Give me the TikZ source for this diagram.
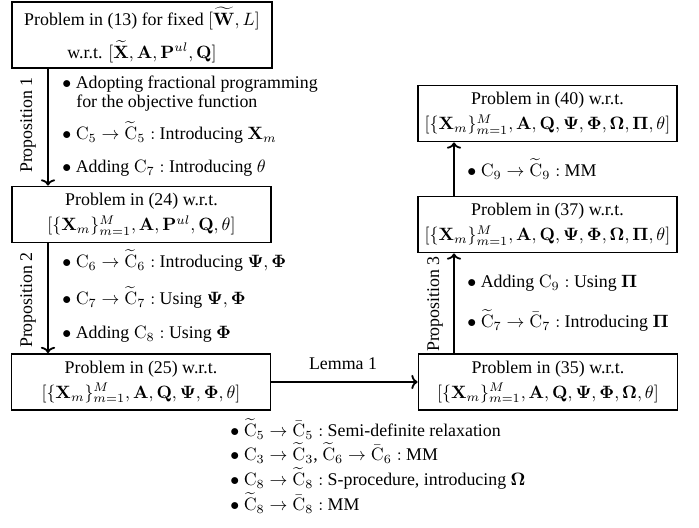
\documentclass[tikz,border=0pt]{standalone}
\usepackage[no-math]{fontspec}
\setmainfont{Liberation Serif}
\usetikzlibrary{arrows.meta}
\def\uu{0.56pt}
\tikzset{
  pbox/.style={draw, line width=1pt, inner sep=0pt, align=center,
    minimum width=259*\uu, minimum height=56*\uu},
  arr/.style={line width=1pt, -{To[length=3.5pt,width=8pt]}},
  bl/.style={anchor=west, inner sep=0pt, text height=7pt, text depth=2pt},
  prop/.style={rotate=90, inner sep=0pt},
}
\begin{document}
\begin{tikzpicture}[x=\uu, y=-\uu]
\useasboundingbox (0,0) rectangle (699,527);
% boxes
\node[pbox, minimum width=260*\uu, minimum height=66*\uu] (b1) at (142,35)
  {Problem in (13) for fixed $[\widetilde{\mathbf{W}}, L]$\\[5pt]
   w.r.t. $[\widetilde{\mathbf{X}}, \mathbf{A}, \mathbf{P}^{ul}, \mathbf{Q}]$};
\node[pbox] (b2) at (141.5,214.5)
  {Problem in (24) w.r.t.\\[2pt]
   $[\{\mathbf{X}_m\}_{m=1}^M, \mathbf{A}, \mathbf{P}^{ul}, \mathbf{Q}, \theta]$};
\node[pbox] (b3) at (141,382)
  {Problem in (25) w.r.t.\\[2pt]
   $[\{\mathbf{X}_m\}_{m=1}^M, \mathbf{A}, \mathbf{Q}, \mathbf{\Psi}, \mathbf{\Phi}, \theta]$};
\node[pbox] (b4) at (548,382)
  {Problem in (35) w.r.t.\\[2pt]
   $[\{\mathbf{X}_m\}_{m=1}^M, \mathbf{A}, \mathbf{Q}, \mathbf{\Psi}, \mathbf{\Phi}, \mathbf{\Omega}, \theta]$};
\node[pbox] (b5) at (547.5,224.5)
  {Problem in (37) w.r.t.\\[2pt]
   $[\{\mathbf{X}_m\}_{m=1}^M, \mathbf{A}, \mathbf{Q}, \mathbf{\Psi}, \mathbf{\Phi}, \mathbf{\Omega}, \mathbf{\Pi}, \theta]$};
\node[pbox] (b6) at (547.5,113.5)
  {Problem in (40) w.r.t.\\[2pt]
   $[\{\mathbf{X}_m\}_{m=1}^M, \mathbf{A}, \mathbf{Q}, \mathbf{\Psi}, \mathbf{\Phi}, \mathbf{\Omega}, \mathbf{\Pi}, \theta]$};
% arrow columns
\coordinate (cl) at (48,0);
\coordinate (cr) at (454,0);
\draw[arr] (b1.south -| cl) -- (b2.north -| cl);
\draw[arr] (b2.south -| cl) -- (b3.north -| cl);
\draw[arr] (b4.north -| cr) -- (b5.south -| cr);
\draw[arr] (b5.north -| cr) -- (b6.south -| cr);
\draw[arr] (b3.east) -- (b4.west);
% labels
\node[prop] (p1) at (28,125) {Proposition 1};
\node[prop] (p2) at (28,300) {Proposition 2};
\node[prop] (p3) at (435,304) {Proposition 3};
\node[inner sep=0pt] (lem) at (343,364) {Lemma 1};
% bullets arrow 1
\node[bl] (t11) at (62,84) {$\bullet$ Adopting fractional programming};
\node[bl] (t12) at (76,103) {for the objective function};
\node[bl] (t13) at (62,135) {$\bullet$ $\mathrm{C}_5\rightarrow\widetilde{\mathrm{C}}_5:$ Introducing $\mathbf{X}_m$};
\node[bl] (t14) at (62,168) {$\bullet$ Adding $\mathrm{C}_7:$ Introducing $\theta$};
% bullets arrow 2
\node[bl] (t21) at (62,263) {$\bullet$ $\mathrm{C}_6\rightarrow\widetilde{\mathrm{C}}_6:$ Introducing $\mathbf{\Psi},\mathbf{\Phi}$};
\node[bl] (t22) at (62,300) {$\bullet$ $\mathrm{C}_7\rightarrow\widetilde{\mathrm{C}}_7:$ Using $\mathbf{\Psi},\mathbf{\Phi}$};
\node[bl] (t23) at (62,334) {$\bullet$ Adding $\mathrm{C}_8:$ Using $\mathbf{\Phi}$};
% right side
\node[bl] (t31) at (467,172) {$\bullet$ $\mathrm{C}_9\rightarrow\widetilde{\mathrm{C}}_9:$ MM};
\node[bl] (t41) at (467,283) {$\bullet$ Adding $\mathrm{C}_9:$ Using $\mathbf{\Pi}$};
\node[bl] (t42) at (467,323) {$\bullet$ $\widetilde{\mathrm{C}}_7\rightarrow\bar{\mathrm{C}}_7:$ Introducing $\mathbf{\Pi}$};
% bottom
\node[bl] (t51) at (230,432) {$\bullet$ $\widetilde{\mathrm{C}}_5\rightarrow\bar{\mathrm{C}}_5:$ Semi-definite relaxation};
\node[bl] (t52) at (230,456) {$\bullet$ $\mathrm{C}_3\rightarrow\widetilde{\mathrm{C}}_3$, $\widetilde{\mathrm{C}}_6\rightarrow\bar{\mathrm{C}}_6:$ MM};
\node[bl] (t53) at (230,481) {$\bullet$ $\mathrm{C}_8\rightarrow\widetilde{\mathrm{C}}_8:$ S-procedure, introducing $\mathbf{\Omega}$};
\node[bl] (t54) at (230,506) {$\bullet$ $\widetilde{\mathrm{C}}_8\rightarrow\bar{\mathrm{C}}_8:$ MM};
\end{tikzpicture}
\end{document}
